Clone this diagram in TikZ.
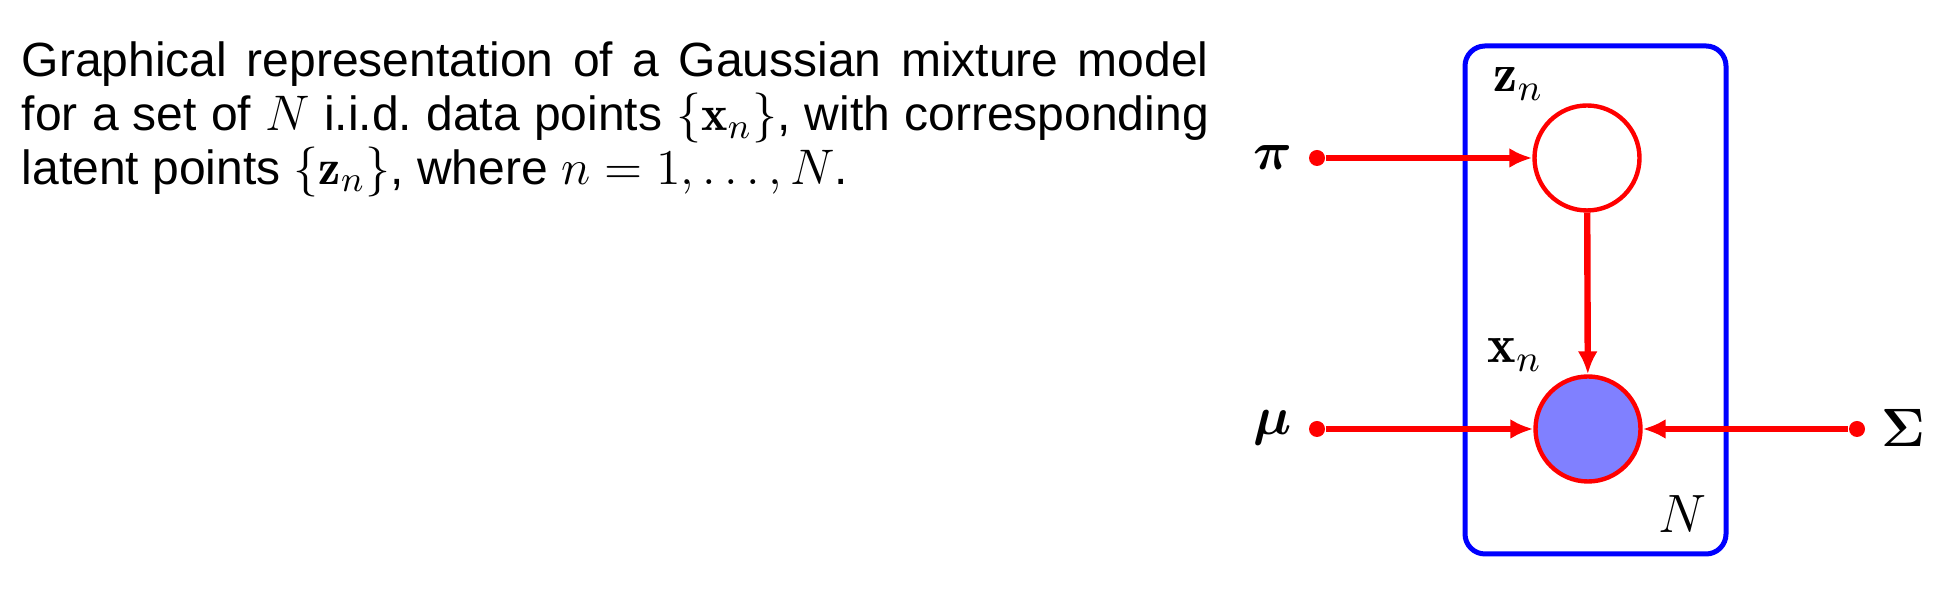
\RequirePackage{fix-cm}
\documentclass[tikz,border=0pt]{standalone}
\usepackage{amsmath}
\usepackage{fontspec}
\setsansfont{Liberation Sans}
\DeclareMathSizes{12}{12.5}{9}{7}
\usetikzlibrary{arrows.meta}
\begin{document}
\begin{tikzpicture}[x=0.25pt,y=-0.25pt,
  plate/.style={draw=blue,line width=1.25pt,rounded corners=5pt,inner sep=0pt,
    minimum width=65.25pt,minimum height=127pt},
  latent/.style={circle,draw=red,line width=1.1pt,minimum size=26.25pt,inner sep=0pt},
  observed/.style={latent,fill=blue!50},
  param/.style={circle,fill=red,minimum size=4pt,inner sep=0pt},
  edge/.style={draw=red,line width=1.6pt,-{Latex[length=5.75pt,width=5pt]}},
  lbl/.style={inner sep=0pt,font=\fontsize{13.5}{16}\selectfont},
  caption/.style={anchor=base west,inner sep=0pt,text width=296.75pt,align=justify,
    font=\sffamily\fontsize{12}{13.4}\selectfont},
]
\useasboundingbox (0,0) rectangle (1960,606);
% caption
\node[caption] (cap) at (21,77) {\hyphenpenalty=10000\exhyphenpenalty=10000\tolerance=9999
Graphical representation of a Gaussian mixture model\linebreak
for a set of $N$ i.i.d.\ data points $\{\mathbf{x}_n\}$, with corresponding\linebreak
latent points $\{\mathbf{z}_n\}$, where $n = 1, \ldots, N$.};
% plate
\node[plate] (plate) at (1595.5,300) {};
\node[lbl,anchor=base west] (Nl) at (1658,533) {$N$};
% nodes
\node[latent] (z) at (1587,158) {};
\node[observed] (x) at (1588,429) {};
\node[lbl,anchor=base west] (zl) at (1493,92) {$\mathbf{z}_n$};
\node[lbl,anchor=base west] (xl) at (1487,363) {$\mathbf{x}_n$};
% parameters
\node[param] (pid) at (1317,158) {};
\node[param] (mud) at (1317,429) {};
\node[param] (sgd) at (1857,429) {};
\node[lbl] (pil) at (1273,158) {$\boldsymbol{\pi}$};
\node[lbl] (mul) at (1273,428) {$\boldsymbol{\mu}$};
\node[lbl] (sgl) at (1903,428) {$\boldsymbol{\Sigma}$};
% edges
\draw[edge] (pid) -- (z);
\draw[edge] (z) -- (x);
\draw[edge] (mud) -- (x);
\draw[edge] (sgd) -- (x);
\end{tikzpicture}
\end{document}
